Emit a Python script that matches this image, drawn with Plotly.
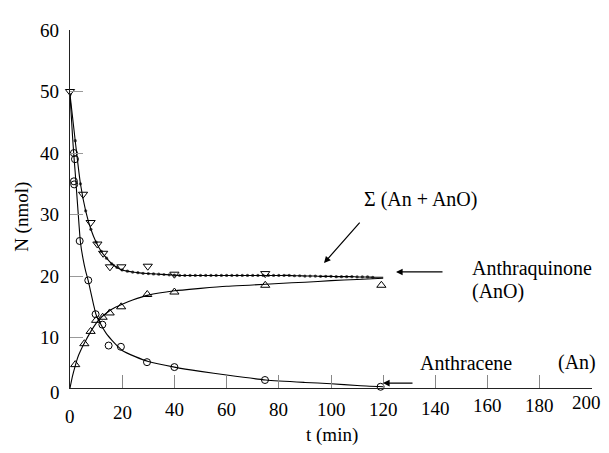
import plotly.graph_objects as go

# ---------------- data ----------------
# Anthracene (An) measurements - open circles
an_t = [1.5, 1.9, 1.5, 1.6, 3.7, 7.0, 9.8, 12.4, 14.8, 19.5, 29.5, 40.0, 74.7, 119.0]
an_v = [40.0, 39.0, 35.4, 34.9, 25.7, 19.3, 13.8, 12.1, 8.7, 8.5, 6.0, 5.2, 3.1, 2.0]

# Anthraquinone (AnO) measurements - open up-triangles
ano_t = [2.0, 5.5, 7.9, 10.0, 12.5, 15.2, 19.6, 29.6, 40.0, 74.8, 119.3]
ano_v = [5.6, 9.0, 11.0, 12.8, 13.3, 14.0, 15.0, 17.0, 17.4, 18.5, 18.5]

# Sum (An + AnO) measurements - open down-triangles
sum_t = [0.0, 5.0, 7.9, 10.5, 12.7, 15.3, 19.7, 29.8, 40.0, 74.8]
sum_v = [50.0, 33.3, 28.7, 25.2, 23.7, 21.5, 21.5, 21.6, 20.3, 20.4]

# fitted curves
an_fit_t = [0, 0.5, 1, 1.5, 2, 3, 4, 5, 6, 7, 8, 9, 10, 12, 14, 16, 18, 20,
            25, 30, 40, 50, 60, 75, 90, 100, 110, 120]
an_fit_v = [49.5, 46.0, 42.5, 39.5, 36.8, 31.0, 25.5, 22.8, 20.8, 19.2, 17.3, 15.4,
            13.7, 12.0, 10.6, 9.6, 8.7, 7.9, 6.9, 6.1, 5.2, 4.5, 3.9, 3.1, 2.7,
            2.5, 2.2, 2.0]

ano_fit_t = [0, 1, 2, 3, 4, 5, 6, 8, 10, 12, 14, 16, 20, 24, 30, 40, 50, 60,
             70, 80, 90, 100, 110, 120]
ano_fit_v = [1.8, 3.8, 5.4, 6.8, 7.8, 8.7, 9.5, 11.0, 12.3, 13.3, 14.0, 14.6,
             15.4, 16.1, 16.9, 17.6, 18.0, 18.35, 18.55, 18.8, 19.0, 19.25,
             19.45, 19.65]

# dotted sum curve (every dot is a point of the curve)
sum_fit_t = [0, 2, 4, 6, 8, 10, 12, 14, 16, 18, 20, 22, 24, 26, 28, 30, 32, 34,
             36, 38, 40, 42, 44, 46, 48, 50, 52, 54, 56, 58, 60, 62, 64, 66, 68,
             70, 72, 74, 76, 78, 80, 82, 84, 86, 88, 90, 92, 94, 96, 98, 100,
             102, 104, 106, 108, 110, 112, 114, 116, 120]
sum_fit_v = [49.5, 42.0, 35.0, 30.6, 27.6, 25.5, 24.0, 22.9, 22.0, 21.4, 21.0,
             20.8, 20.65, 20.55, 20.45, 20.4, 20.35, 20.3, 20.25, 20.2, 20.15,
             20.1, 20.1, 20.1, 20.1, 20.1, 20.1, 20.1, 20.1, 20.1, 20.1, 20.1,
             20.1, 20.1, 20.1, 20.1, 20.1, 20.1, 20.1, 20.1, 20.1, 20.1, 20.1,
             20.05, 20.05, 20.0, 20.0, 20.0, 19.95, 19.95, 19.95, 19.9, 19.9,
             19.9, 19.9, 19.85, 19.85, 19.85, 19.8, 19.8]

x_ticks = [20, 40, 60, 80, 100, 120, 140, 160, 180, 200]
x_tick_labels = ["0", "20", "40", "60", "80", "100", "120", "140", "160", "180", "200"]
x_label_vals = [0, 20, 40, 60, 80, 100, 120, 140, 160, 180, 200]
y_ticks = [10, 20, 30, 40, 50, 60]

# ---------------- layout helpers ----------------
# page body has an 8px margin: the figure starts at (8, 8) of the window
OX, OY = 8, 8
W, H = 609 - OX, 453 - 2 * OY
ML, MT = 70 - OX, 24 - OY
PLOT_RIGHT, PLOT_BOTTOM = 592, 388          # window pixels
MR = W - (PLOT_RIGHT - OX)
MB = H - (PLOT_BOTTOM - OY)
PW, PH = W - ML - MR, H - MT - MB
FONT = "'Liberation Serif', 'Times New Roman', Times, serif"


def px_x(px):
    return (px - OX - ML) / PW


def px_y(py):
    return (PLOT_BOTTOM - py) / PH


fig = go.Figure()

line_style = dict(color="black", width=1.1)

fig.add_trace(go.Scatter(x=an_fit_t, y=an_fit_v, mode="lines",
                         line=dict(shape="spline", smoothing=0.6, **line_style),
                         hoverinfo="skip"))
fig.add_trace(go.Scatter(x=ano_fit_t, y=ano_fit_v, mode="lines",
                         line=dict(shape="spline", smoothing=0.6, **line_style),
                         hoverinfo="skip"))
dot_sizes = [3.2] * (len(sum_fit_t) - 1) + [0]
fig.add_trace(go.Scatter(x=sum_fit_t, y=sum_fit_v, mode="lines+markers",
                         line=dict(shape="spline", smoothing=0.6, **line_style),
                         marker=dict(size=dot_sizes, color="black", line=dict(width=0)),
                         hoverinfo="skip"))

sym_line = dict(color="black", width=1)
fig.add_trace(go.Scatter(x=an_t, y=an_v, mode="markers", cliponaxis=False,
                         marker=dict(symbol="circle-open", size=7, color="black", line=sym_line)))
fig.add_trace(go.Scatter(x=ano_t, y=ano_v, mode="markers", cliponaxis=False,
                         marker=dict(symbol="triangle-up-open", size=8, color="black", line=sym_line)))
fig.add_trace(go.Scatter(x=sum_t, y=sum_v, mode="markers", cliponaxis=False,
                         marker=dict(symbol="triangle-down-open", size=8, color="black", line=sym_line)))

annotations = []

# x tick labels (irregular vertical placement as in the original)
x_label_py = [417, 413, 410, 410, 410, 410, 410, 409, 405.5, 405.5, 403]
x_label_shift = [0, 0, 0, 0, 0, 0, 0, 0, 0, 0, -6]
for v, txt, py, sh in zip(x_label_vals, x_tick_labels, x_label_py, x_label_shift):
    annotations.append(dict(x=v, xref="x", y=px_y(py), yref="paper", text=txt,
                            showarrow=False, xanchor="center", yanchor="middle",
                            xshift=sh,
                            font=dict(family=FONT, size=19, color="black")))

# y "0" label
annotations.append(dict(x=px_x(62), y=px_y(393), xref="paper", yref="paper", text="0",
                        showarrow=False, xanchor="right", yanchor="middle",
                        font=dict(family=FONT, size=19, color="black")))

# axis titles
annotations.append(dict(x=px_x(22), y=px_y(214), xref="paper", yref="paper",
                        text="N (nmol)", textangle=-90, showarrow=False,
                        xanchor="center", yanchor="middle",
                        font=dict(family=FONT, size=19, color="black")))
annotations.append(dict(x=px_x(332), y=px_y(436), xref="paper", yref="paper",
                        text="t (min)", showarrow=False,
                        xanchor="center", yanchor="middle",
                        font=dict(family=FONT, size=19, color="black")))

# labels
txt_font = dict(family=FONT, size=20, color="black")
annotations.append(dict(x=px_x(420), y=px_y(196), xref="paper", yref="paper",
                        text="\u03a3 (An + AnO)", showarrow=False,
                        xanchor="center", yanchor="middle", font=txt_font))
annotations.append(dict(x=px_x(470), y=px_y(267), xref="paper", yref="paper",
                        text="Anthraquinone", showarrow=False,
                        xanchor="left", yanchor="middle", font=txt_font))
annotations.append(dict(x=px_x(470), y=px_y(290), xref="paper", yref="paper",
                        text="(AnO)", showarrow=False,
                        xanchor="left", yanchor="middle", font=txt_font))
annotations.append(dict(x=px_x(418), y=px_y(363), xref="paper", yref="paper",
                        text="Anthracene", showarrow=False,
                        xanchor="left", yanchor="middle", font=txt_font))
annotations.append(dict(x=px_x(556), y=px_y(362), xref="paper", yref="paper",
                        text="(An)", showarrow=False,
                        xanchor="left", yanchor="middle", font=txt_font))

# arrows
arrow_style = dict(showarrow=True, arrowhead=2, arrowsize=1.1, arrowwidth=1.2,
                   arrowcolor="black", text="", xref="paper", yref="paper")
annotations.append(dict(x=px_x(324), y=px_y(261), ax=37, ay=-42, **arrow_style))
annotations.append(dict(x=px_x(396), y=px_y(270), ax=48, ay=0, **arrow_style))
annotations.append(dict(x=px_x(383), y=px_y(383), ax=31, ay=0, **arrow_style))

fig.update_layout(
    width=W, height=H,
    margin=dict(l=ML, r=MR, t=MT, b=MB, pad=0),
    paper_bgcolor="white", plot_bgcolor="white",
    showlegend=False,
    font=dict(family=FONT, size=19, color="black"),
    annotations=annotations,
    xaxis=dict(range=[0, 200], showline=True, linecolor="#222", linewidth=1.2,
               ticks="inside", tickvals=x_ticks, ticklen=13, tickcolor="#888",
               tickwidth=1, showticklabels=False, showgrid=False, zeroline=False),
    yaxis=dict(range=[1.8, 60], showline=True, linecolor="#222", linewidth=1.2,
               ticks="inside", tickvals=y_ticks, ticklen=13, tickcolor="#999",
               tickwidth=1, showgrid=False, zeroline=False,
               tickfont=dict(family=FONT, size=19, color="black"),
               ticklabelstandoff=6),
)

fig.write_html("out.html")
